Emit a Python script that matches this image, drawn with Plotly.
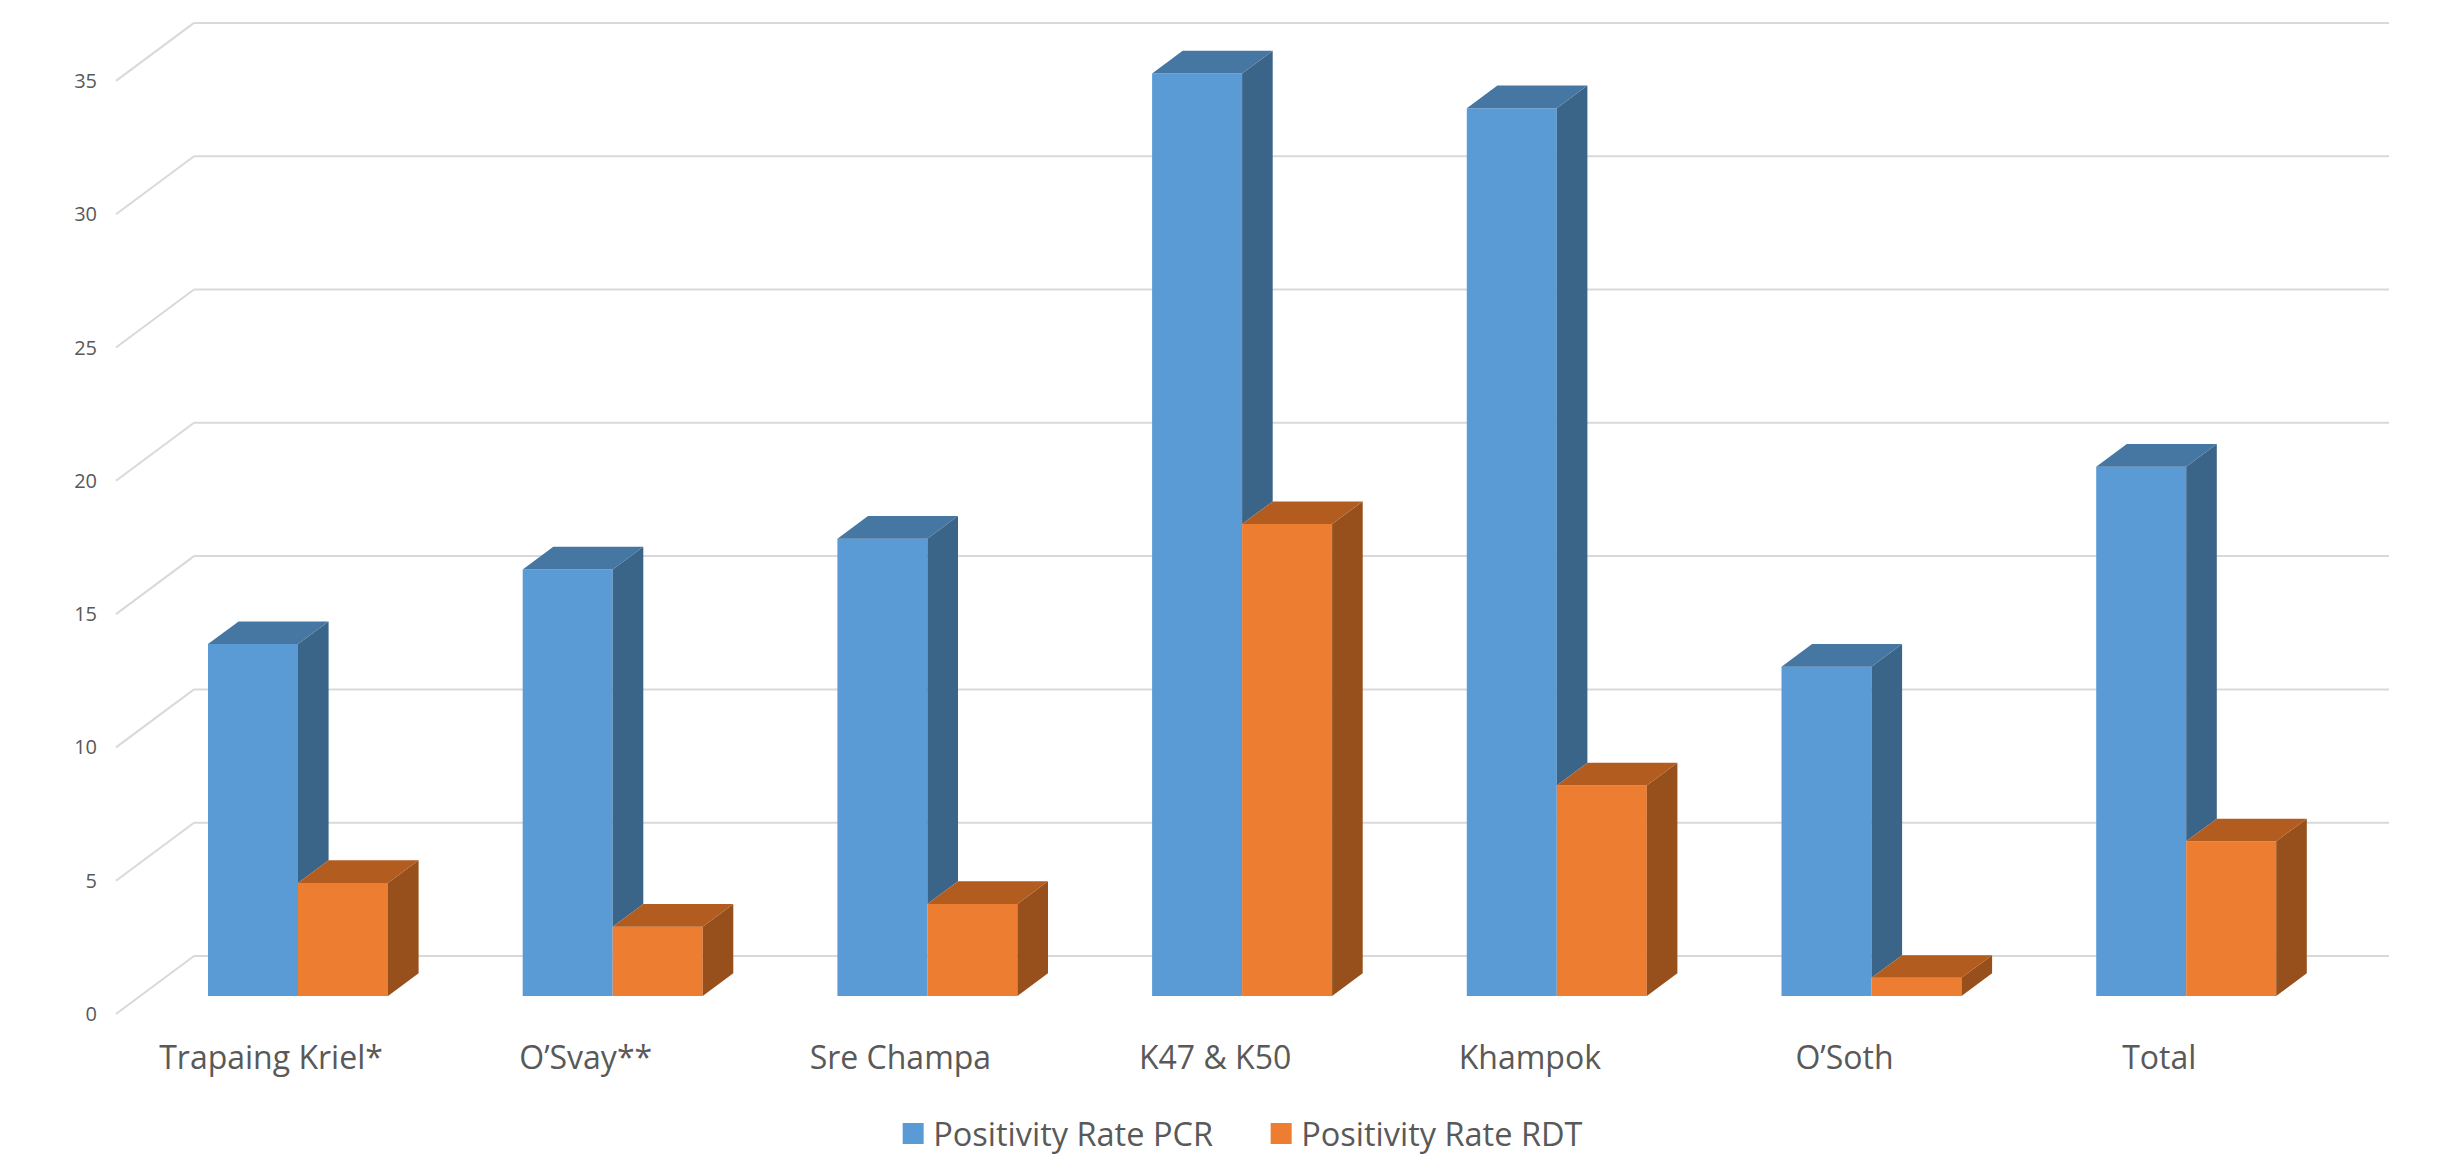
import plotly.graph_objects as go

# Positivity rates per site (%)
sites = ["Trapaing Kriel*", "O’Svay**", "Sre Champa", "K47 & K50", "Khampok", "O’Soth", "Total"]
pcr_rate = [13.2, 16.0, 17.15, 34.6, 33.3, 12.35, 19.85]
rdt_rate = [4.24, 2.6, 3.45, 17.7, 7.9, 0.68, 5.8]
value_ticks = [0, 5, 10, 15, 20, 25, 30, 35]

# Figure scale
WIDTH, HEIGHT = 2437, 1157
PX_PER_CATEGORY = 314.7
PX_PER_VALUE = 26.66
FIRST_GROUP_PX = 298
BASELINE_PX = 996
LEFT, RIGHT, TOP, BOTTOM = 98, 2417, 8, 1030


def dx(px):
    return px / PX_PER_CATEGORY


def dv(px):
    return px / PX_PER_VALUE


BAR_WIDTH = dx(90)
# Oblique projection of depth: bars sit inside the floor, between its front and back edges
BAR_DEPTH_X, BAR_DEPTH_V = dx(30.6), dv(22.7)
LABEL_X = dx(-27)                        # category labels line up with the floor's front edge
FRONT_V = dv(-18)                        # floor front edge relative to the bar plane
BACK_V = dv(40)                          # floor back edge relative to the bar plane
GRID_LEFT = dx(194 - FIRST_GROUP_PX)
GRID_RIGHT = dx(2389 - FIRST_GROUP_PX)
FRONT_EDGE_X = dx(116 - FIRST_GROUP_PX)

BLUE, BLUE_SIDE, BLUE_TOP = "#5B9BD5", "#3A6588", "#4676A2"
ORANGE, ORANGE_SIDE, ORANGE_TOP = "#ED7D31", "#97501C", "#B35C20"
GRID = "#D9D9D9"
TEXT = "#595959"
FONT = "Open Sans"

positions = list(range(len(sites)))


def polygons(rings):
    xs, ys = [], []
    for ring in rings:
        xs += [p[0] for p in ring] + [ring[0][0], None]
        ys += [p[1] for p in ring] + [ring[0][1], None]
    return xs, ys


def face(rings, color, name):
    xs, ys = polygons(rings)
    return go.Scatter(x=xs, y=ys, mode="lines", fill="toself", fillcolor=color,
                      line=dict(width=0, color=color), hoverinfo="skip",
                      showlegend=False, name=name)


fig = go.Figure()

# Front faces
fig.add_trace(go.Bar(x=positions, y=pcr_rate, name="Positivity Rate PCR", marker_color=BLUE,
                     marker_line_width=0, showlegend=False, customdata=sites,
                     hovertemplate="%{customdata}: %{y}<extra>PCR</extra>"))
fig.add_trace(go.Bar(x=positions, y=rdt_rate, name="Positivity Rate RDT", marker_color=ORANGE,
                     marker_line_width=0, showlegend=False, customdata=sites,
                     hovertemplate="%{customdata}: %{y}<extra>RDT</extra>"))

# Blue side faces stop where the orange bar in front of them begins
fig.add_trace(face([[(i, r), (i, p), (i + BAR_DEPTH_X, p + BAR_DEPTH_V), (i + BAR_DEPTH_X, r + BAR_DEPTH_V)]
                    for i, p, r in zip(positions, pcr_rate, rdt_rate)], BLUE_SIDE, "PCR side"))
fig.add_trace(face([[(i - BAR_WIDTH, p), (i, p), (i + BAR_DEPTH_X, p + BAR_DEPTH_V),
                     (i - BAR_WIDTH + BAR_DEPTH_X, p + BAR_DEPTH_V)]
                    for i, p in zip(positions, pcr_rate)], BLUE_TOP, "PCR top"))
fig.add_trace(face([[(i + BAR_WIDTH, 0), (i + BAR_WIDTH, r), (i + BAR_WIDTH + BAR_DEPTH_X, r + BAR_DEPTH_V),
                     (i + BAR_WIDTH + BAR_DEPTH_X, BAR_DEPTH_V)]
                    for i, r in zip(positions, rdt_rate)], ORANGE_SIDE, "RDT side"))
fig.add_trace(face([[(i, r), (i + BAR_WIDTH, r), (i + BAR_WIDTH + BAR_DEPTH_X, r + BAR_DEPTH_V),
                     (i + BAR_DEPTH_X, r + BAR_DEPTH_V)]
                    for i, r in zip(positions, rdt_rate)], ORANGE_TOP, "RDT top"))

# Legend entries with the large square swatches
for label, color in (("Positivity Rate PCR", BLUE), ("Positivity Rate RDT", ORANGE)):
    fig.add_trace(go.Scatter(x=[None], y=[None], mode="markers", name=label,
                             marker=dict(symbol="square", size=16, color=color,
                                         line=dict(width=5, color=color))))

# Back-wall gridlines and the diagonals running to the floor's front edge
shapes = []
for v in value_ticks:
    line = dict(color=GRID, width=2)
    shapes.append(dict(type="line", xref="x", yref="y", layer="below", line=line,
                       x0=GRID_LEFT, x1=GRID_RIGHT, y0=v + BACK_V, y1=v + BACK_V))
    shapes.append(dict(type="line", xref="x", yref="y", layer="below", line=line,
                       x0=FRONT_EDGE_X, x1=GRID_LEFT, y0=v + FRONT_V, y1=v + BACK_V))

fig.update_layout(
    width=WIDTH, height=HEIGHT, autosize=False,
    margin=dict(l=LEFT, r=WIDTH - RIGHT, t=TOP, b=HEIGHT - BOTTOM, pad=0),
    paper_bgcolor="white", plot_bgcolor="white",
    barmode="group", bargap=1 - 2 * BAR_WIDTH, bargroupgap=0,
    shapes=shapes,
    font=dict(family=FONT, color=TEXT),
    legend=dict(orientation="h", x=0.3665, xanchor="left", y=0.02, yanchor="middle",
                yref="container", xref="container",
                font=dict(size=32.5, family=FONT, color=TEXT), itemwidth=30,
                entrywidth=323, entrywidthmode="pixels",
                bgcolor="rgba(0,0,0,0)", traceorder="normal"),
    xaxis=dict(range=[dx(LEFT - FIRST_GROUP_PX), dx(RIGHT - FIRST_GROUP_PX)],
               tickvals=[i + LABEL_X for i in positions], ticktext=sites,
               tickfont=dict(size=32, family=FONT, color=TEXT), tickangle=0,
               ticklabelstandoff=6,
               showgrid=False, zeroline=False, showline=False, ticks="", fixedrange=True),
    yaxis=dict(range=[dv(BASELINE_PX - BOTTOM), dv(BASELINE_PX - TOP)],
               tickvals=[v + FRONT_V for v in value_ticks], ticktext=[str(v) for v in value_ticks],
               tickfont=dict(size=20, family=FONT, color=TEXT),
               showgrid=False, zeroline=False, showline=False, ticks="", fixedrange=True),
)

fig.write_html("out.html", config={"displayModeBar": False})
